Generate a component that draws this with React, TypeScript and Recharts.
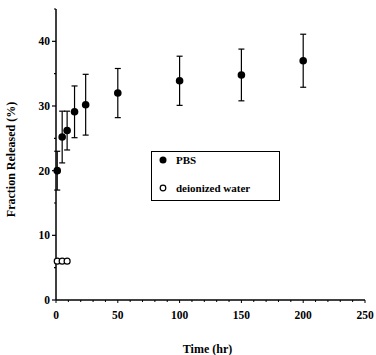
import React from 'react';
import { ScatterChart, Scatter, XAxis, YAxis, ErrorBar, Legend, Label } from 'recharts';

const pbsTime = [1, 5, 9, 15, 24, 50, 100, 150, 200];
const pbsRelease = [20, 25.2, 26.2, 29.1, 30.2, 32, 33.9, 34.8, 37];
const pbsError = [3, 4, 3, 4, 4.7, 3.8, 3.8, 4, 4.1];
const waterTime = [1, 5, 9];
const waterRelease = [6, 6, 6];
const xTicks = [0, 10, 20, 30, 40, 50, 60, 70, 80, 90, 100, 110, 120, 130, 140, 150, 160, 170, 180, 190, 200, 210, 220, 230, 240, 250];
const yTicks = [0, 5, 10, 15, 20, 25, 30, 35, 40, 45];

const pbsData = pbsTime.map((t, i) => ({ t, v: pbsRelease[i], e: pbsError[i] }));
const waterData = waterTime.map((t, i) => ({ t, v: waterRelease[i] }));

const FONT = '"Liberation Serif", "DejaVu Serif", serif';

const XTick = (props: any) => {
  const { x, y, payload } = props;
  const major = payload.value % 50 === 0;
  return (
    <g>
      <line x1={x} x2={x} y1={y} y2={y + (major ? 3 : 2)} stroke="#000" strokeWidth={1} />
      {major && (
        <text x={x} y={y + 19} textAnchor="middle" fontFamily={FONT} fontWeight="bold" fontSize={11.5} fill="#000">
          {payload.value}
        </text>
      )}
    </g>
  );
};

const YTick = (props: any) => {
  const { x, y, payload } = props;
  const major = payload.value % 10 === 0;
  return (
    <g>
      <line x1={x - (major ? 4 : 2)} x2={x} y1={y} y2={y} stroke="#000" strokeWidth={1.2} />
      {major && (
        <text x={x - 6} y={y + 4} textAnchor="end" fontFamily={FONT} fontWeight="bold" fontSize={11.5} fill="#000">
          {payload.value}
        </text>
      )}
    </g>
  );
};

const YLabel = (props: any) => {
  const vb = props.viewBox || {};
  const cx = 15;
  const cy = (vb.y ?? 9) + (vb.height ?? 291) / 2 + 5;
  return (
    <text
      x={cx}
      y={cy}
      transform={`rotate(-90 ${cx} ${cy})`}
      textAnchor="middle"
      fontFamily={FONT}
      fontWeight="bold"
      fontSize={12}
      fill="#000"
    >
      Fraction Released (%)
    </text>
  );
};

const FilledDot = (props: any) => <circle cx={props.cx} cy={props.cy} r={3.8} fill="#000" />;
const OpenDot = (props: any) => <circle cx={props.cx} cy={props.cy} r={3} fill="#fff" stroke="#000" strokeWidth={1.2} />;

const LegendBox = () => (
  <svg width={130} height={51} style={{ display: 'block' }}>
    <rect x={0.5} y={0.5} width={128} height={49} fill="#fff" stroke="#000" strokeWidth={1} />
    <circle cx={12} cy={9} r={3.5} fill="#000" />
    <text x={25} y={13} fontFamily={FONT} fontWeight="bold" fontSize={11} fill="#000">PBS</text>
    <circle cx={12} cy={37} r={2.8} fill="#fff" stroke="#000" strokeWidth={1.2} />
    <text x={25} y={41} fontFamily={FONT} fontWeight="bold" fontSize={11} fill="#000">deionized water</text>
  </svg>
);

export default function App() {
  return (
    <div style={{ position: 'absolute', left: 0, top: 0 }}>
      <ScatterChart width={376} height={355} margin={{ top: 9, right: 11, bottom: 25, left: 10 }}>
        <XAxis
          type="number"
          dataKey="t"
          domain={[0, 250]}
          ticks={xTicks}
          interval={0}
          tickSize={0}
          tickMargin={0}
          tickLine={false}
          tick={<XTick />}
          height={30}
          axisLine={{ stroke: '#000', strokeWidth: 1.5 }}
        >
          <Label value="Time  (hr)" position="insideBottom" offset={-23} fontFamily={FONT} fontWeight="bold" fontSize={12} fill="#000" dx={-3} />
        </XAxis>
        <YAxis
          type="number"
          dataKey="v"
          domain={[0, 45]}
          ticks={yTicks}
          interval={0}
          tickSize={0}
          tickMargin={0}
          tickLine={false}
          tick={<YTick />}
          width={46}
          axisLine={{ stroke: '#000', strokeWidth: 1.5 }}
        >
          <Label content={<YLabel />} />
        </YAxis>
        <Scatter name="PBS" data={pbsData} shape={<FilledDot />} isAnimationActive={false}>
          <ErrorBar dataKey="e" direction="y" width={3} stroke="#000" strokeWidth={1.2} />
        </Scatter>
        <Scatter name="deionized water" data={waterData} shape={<OpenDot />} isAnimationActive={false} />
        <Legend
          layout="horizontal"
          verticalAlign="middle"
          align="center"
          content={<LegendBox />}
          wrapperStyle={{ position: 'absolute', left: 151, top: 151, width: 130, height: 51 }}
        />
      </ScatterChart>
    </div>
  );
}
